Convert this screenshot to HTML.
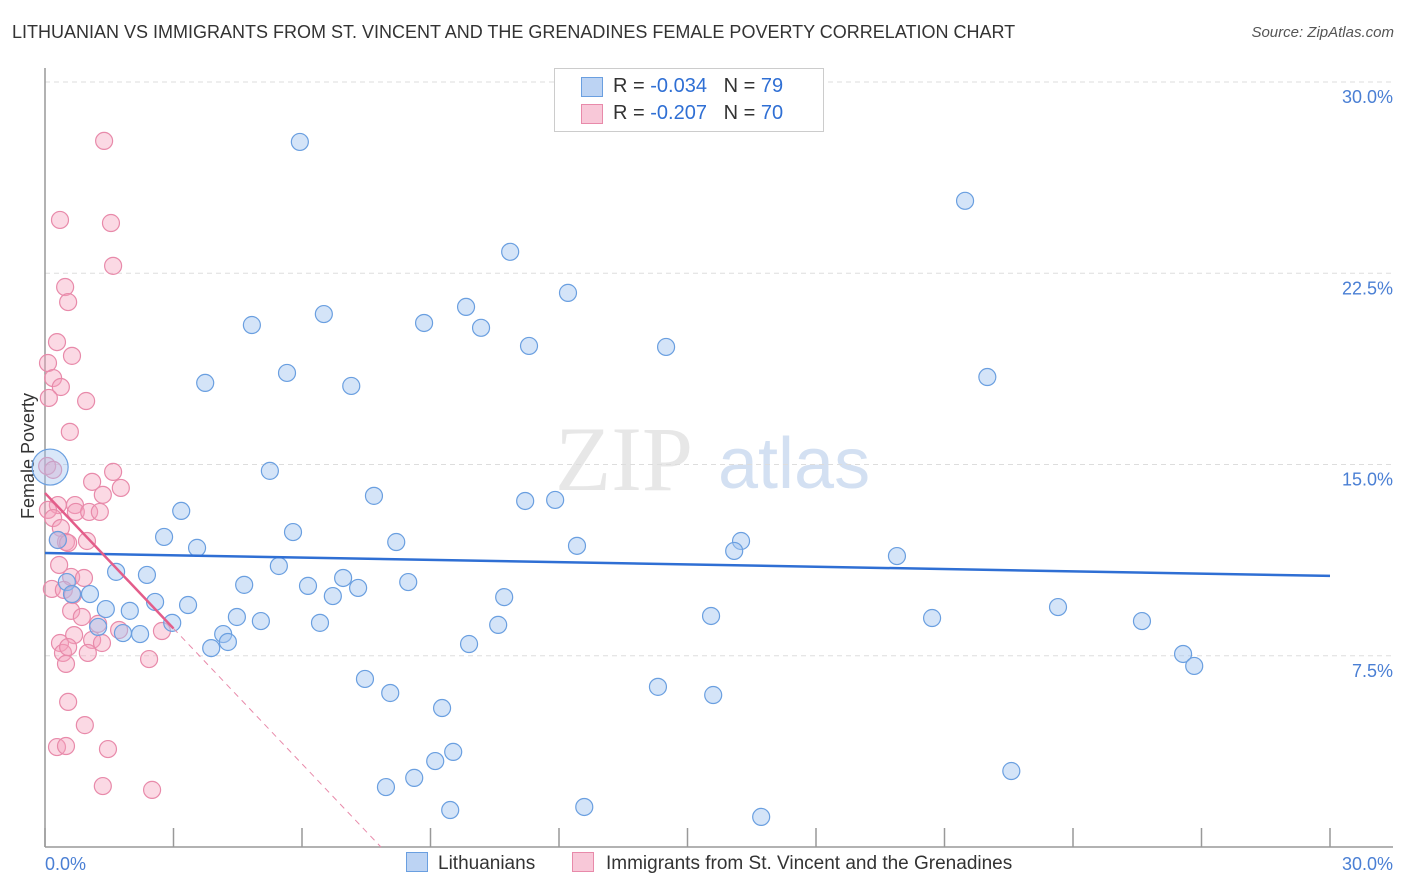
<!DOCTYPE html>
<html><head><meta charset="utf-8"><style>
body{margin:0;background:#fff;font-family:"Liberation Sans",sans-serif;}
#wrap{position:relative;width:1406px;height:892px;overflow:hidden}
.t{position:absolute;white-space:nowrap}
</style></head><body>
<div id="wrap">
<div class="t" style="left:12px;top:22px;font-size:18px;color:#333">LITHUANIAN VS IMMIGRANTS FROM ST. VINCENT AND THE GRENADINES FEMALE POVERTY CORRELATION CHART</div>
<div class="t" style="right:12px;top:24px;font-size:15px;color:#555;font-style:italic">Source: ZipAtlas.com</div>
<svg id="svg" width="1406" height="892" style="position:absolute;left:0;top:0"></svg>
</div>
<script>
const xTicks=[0,30];
const yTicks=[7.5,15,22.5,30];
const blueX=[5.95,21.48,10.86,12.21,4.83,6.51,8.85,9.83,10.18,11.30,14.50,3.74,5.65,7.15,22.00,5.25,7.68,11.21,11.91,3.18,5.79,2.78,3.55,8.20,12.42,16.25,16.09,19.89,0.30,1.66,2.38,5.46,4.65,6.14,6.96,7.31,8.48,6.72,10.72,0.51,1.05,0.63,1.42,1.98,2.57,3.34,4.48,5.04,6.42,10.58,15.55,20.71,23.65,25.61,2.97,1.24,1.82,2.22,4.16,4.27,3.88,9.90,26.57,26.83,7.47,8.06,14.31,15.60,9.27,9.53,9.11,8.62,7.96,22.56,9.46,12.59,16.72];
const blueY=[27.65,25.34,23.34,21.73,20.47,20.90,20.55,21.18,20.36,19.65,19.61,18.20,18.59,18.08,18.43,14.75,13.77,13.57,13.61,13.18,12.35,12.16,11.73,11.96,11.81,12.00,11.61,11.41,12.04,10.79,10.67,11.02,10.28,10.24,10.55,10.16,10.39,9.84,9.80,10.39,9.92,9.92,9.33,9.26,9.61,9.49,9.02,8.86,8.79,8.71,9.06,8.98,9.41,8.86,8.79,8.63,8.39,8.35,8.35,8.04,7.80,7.96,7.57,7.10,6.59,6.04,6.28,5.96,5.45,3.73,3.37,2.71,2.35,2.98,1.45,1.57,1.18];
const pinkX=[1.38,0.35,1.54,1.59,0.47,0.54,0.28,0.63,0.07,0.19,0.37,0.96,0.09,0.58,0.05,0.19,1.59,1.10,1.77,1.35,0.30,0.70,0.07,0.72,1.03,1.28,0.19,0.37,0.49,0.98,0.30,0.54,0.33,0.61,0.91,0.16,0.44,0.65,0.61,0.86,1.24,1.73,2.73,0.35,0.68,1.10,0.42,0.54,1.33,1.00,0.49,2.43,0.54,0.93,0.28,0.49,1.47,1.35,2.50];
const pinkY=[27.69,24.59,24.47,22.79,21.96,21.37,19.80,19.26,18.98,18.39,18.04,17.49,17.61,16.28,14.94,14.79,14.71,14.32,14.08,13.81,13.41,13.41,13.22,13.14,13.14,13.14,12.90,12.51,11.96,12.00,12.04,11.92,11.06,10.59,10.55,10.12,10.08,9.88,9.26,9.02,8.75,8.51,8.47,8.00,8.31,8.12,7.61,7.84,8.00,7.61,7.18,7.37,5.69,4.78,3.92,3.96,3.84,2.39,2.24];
const blueTrend=[11.53,10.63];
const pinkTrend=[13.88,-1.77];
const X0=45,X1=1330,Y0=847,Y30=82;
const sx=v=>X0+(v/30)*(X1-X0);
const sy=v=>Y0-(v/30)*(Y0-Y30);
const svg=document.getElementById('svg');
const NS='http://www.w3.org/2000/svg';
function mk(tag,a){const e=document.createElementNS(NS,tag);for(const k in a)e.setAttribute(k,a[k]);svg.appendChild(e);return e;}
// watermark
let w=mk('text',{x:555,y:490,'font-size':92,fill:'#ddd','font-family':'Liberation Serif',opacity:0.7});w.textContent='ZIP';


let w2=mk('text',{x:718,y:488,'font-size':72,fill:'#c9d9ef','font-family':'Liberation Sans',opacity:0.8});w2.textContent='atlas';


// gridlines & y labels
yTicks.forEach(v=>{const g=mk('line',{x1:X0,x2:1393,y1:sy(v),y2:sy(v),stroke:'#ddd','stroke-dasharray':'5,4'});


const t=mk('text',{x:1393,y:sy(v)+21,'text-anchor':'end','font-size':18,fill:'#4a7fd4'});t.textContent=v.toFixed(1)+'%';

});
// axes
let ax=mk('line',{x1:X0,x2:X0,y1:68,y2:Y0,stroke:'#999','stroke-width':1.5});


let ax2=mk('line',{x1:X0,x2:1393,y1:Y0,y2:Y0,stroke:'#999','stroke-width':1.5});


for(let i=0;i<=10;i++){const x=X0+i*(X1-X0)/10;const tk=mk('line',{x1:x,x2:x,y1:828,y2:Y0,stroke:'#999','stroke-width':1.5});

}
xTicks.forEach((v,i)=>{const t=mk('text',{x:i?1393:45,y:870,'text-anchor':i?'end':'start','font-size':18,fill:'#4a7fd4'});t.textContent=v.toFixed(1)+'%';

});
let yt=mk('text',{x:0,y:0,'font-size':18,fill:'#333','text-anchor':'middle',transform:'translate(34,456) rotate(-90)'});yt.textContent='Female Poverty';


// points
pinkX.forEach((v,i)=>{const c=mk('circle',{cx:sx(v),cy:sy(pinkY[i]),r:8.5,fill:'rgba(244,160,188,0.4)',stroke:'#e88aaa','stroke-width':1.2});

});
blueX.forEach((v,i)=>{const c=mk('circle',{cx:sx(v),cy:sy(blueY[i]),r:8.5,fill:'rgba(160,195,240,0.45)',stroke:'#6a9fe0','stroke-width':1.2});

});
let big=mk('circle',{cx:sx(0.12),cy:sy(14.9),r:18,fill:'rgba(160,195,240,0.4)',stroke:'#6a9fe0','stroke-width':1.2});


// trends
let bl=mk('line',{x1:sx(0),x2:sx(30),y1:sy(blueTrend[0]),y2:sy(blueTrend[1]),stroke:'#2f6fd4','stroke-width':2.5});


const pEnd=3.0, pZero=-pinkTrend[0]/pinkTrend[1];
let pl=mk('line',{x1:sx(0),x2:sx(pEnd),y1:sy(pinkTrend[0]),y2:sy(pinkTrend[0]+pinkTrend[1]*pEnd),stroke:'#e35d8a','stroke-width':2.5});


let pd=mk('line',{x1:sx(pEnd),x2:sx(pZero),y1:sy(pinkTrend[0]+pinkTrend[1]*pEnd),y2:sy(0),stroke:'#e88aaa','stroke-width':1,'stroke-dasharray':'6,5'});


</script>
<div style="position:absolute;left:554px;top:68px;width:268px;height:62px;border:1px solid #ccc;background:#fff;font-size:20px;color:#333">
 <div style="position:absolute;left:26px;top:8px;width:20px;height:18px;background:#bcd3f3;border:1px solid #6a9fe0"></div>
 <div class="t" style="left:58px;top:6px">R = <span style="color:#2f6fd4">-0.034</span>&nbsp;&nbsp;&nbsp;N = <span style="color:#2f6fd4">79</span></div>
 <div style="position:absolute;left:26px;top:35px;width:20px;height:18px;background:#f8c8d8;border:1px solid #e88aaa"></div>
 <div class="t" style="left:58px;top:33px">R = <span style="color:#2f6fd4">-0.207</span>&nbsp;&nbsp;&nbsp;N = <span style="color:#2f6fd4">70</span></div>
</div>
<div style="position:absolute;top:852px;left:406px;font-size:19px;color:#333">
 <div style="position:absolute;left:0;top:0;white-space:nowrap"><span style="display:inline-block;width:20px;height:18px;background:#bcd3f3;border:1px solid #6a9fe0;vertical-align:-3px;margin-right:10px"></span>Lithuanians</div>
 <div style="position:absolute;left:166px;top:0;white-space:nowrap"><span style="display:inline-block;width:20px;height:18px;background:#f8c8d8;border:1px solid #e88aaa;vertical-align:-3px;margin-right:12px"></span>Immigrants from St. Vincent and the Grenadines</div>
</div>
</body></html>
